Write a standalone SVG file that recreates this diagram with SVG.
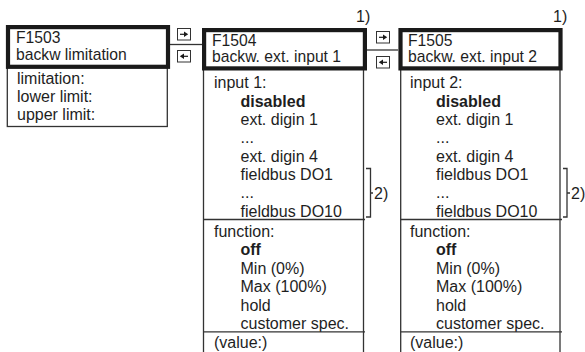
<svg xmlns="http://www.w3.org/2000/svg" width="585" height="352" viewBox="0 0 585 352">
<style>
text{font-family:"Liberation Sans",Arial,Helvetica,sans-serif;font-size:16px;fill:#1e1e1e}
.h{font-size:15.7px}
.b{font-weight:bold}
.hdr{fill:#fff;stroke:#1a1a1a;stroke-width:4.2}
.body{fill:#fff;stroke:#333;stroke-width:1.3}
.ln{fill:none;stroke:#333;stroke-width:1.3}
.ic{fill:#fff;stroke:#333;stroke-width:1}
</style>
<defs>
<g id="ar">
<rect class="ic" x="0.5" y="0.5" width="13" height="11.5"/>
<line x1="3" y1="6.3" x2="8" y2="6.3" stroke="#1a1a1a" stroke-width="1.2"/>
<polygon points="7,3.5 11.2,6.3 7,9.1" fill="#1a1a1a"/>
</g>
<g id="al">
<rect class="ic" x="0.5" y="0.5" width="13" height="11.5"/>
<line x1="6" y1="6.3" x2="11" y2="6.3" stroke="#1a1a1a" stroke-width="1.2"/>
<polygon points="7,3.5 2.8,6.3 7,9.1" fill="#1a1a1a"/>
</g>
</defs>

<g id="connectors">
<line class="ln" x1="170" y1="44.5" x2="202" y2="44.5"/>
<line class="ln" x1="367" y1="50" x2="398" y2="50"/>
<use href="#ar" x="177" y="28"/>
<use href="#al" x="177" y="50"/>
<use href="#ar" x="376" y="31"/>
<use href="#al" x="376" y="56"/>
</g>

<g id="F1503">
<rect class="body" x="7.3" y="66" width="160" height="60.5"/>
<rect class="hdr" x="8" y="27.1" width="160" height="39.7"/>
<text class="h" x="16" y="42.5">F1503</text>
<text class="h" x="16" y="60">backw limitation</text>
<text x="17" y="84">limitation:</text>
<text x="17" y="102">lower limit:</text>
<text x="17" y="120">upper limit:</text>
</g>

<g id="F1504">
<rect class="body" x="203.5" y="68" width="160" height="300"/>
<rect class="hdr" x="204.1" y="30.1" width="160.8" height="38.3"/>
<text x="356" y="22">1)</text>
<text class="h" x="212" y="46.3">F1504</text>
<text class="h" x="212" y="62">backw. ext. input 1</text>
<text x="214" y="88.3">input 1:</text>
<text x="240.5" y="106.6" class="b">disabled</text>
<text x="240.5" y="124.9">ext. digin 1</text>
<text x="240.5" y="143.2">...</text>
<text x="240.5" y="161.5">ext. digin 4</text>
<text x="240.5" y="179.8">fieldbus DO1</text>
<text x="240.5" y="198.1">...</text>
<text x="240.5" y="216.5">fieldbus DO10</text>
<line class="ln" x1="203.5" y1="219.5" x2="365" y2="219.5"/>
<text x="214" y="236.5">function:</text>
<text x="240.5" y="255" class="b">off</text>
<text x="240.5" y="273.5">Min (0%)</text>
<text x="240.5" y="292">Max (100%)</text>
<text x="240.5" y="310.5">hold</text>
<text x="240.5" y="329">customer spec.</text>
<line class="ln" x1="203.5" y1="331.8" x2="365" y2="331.8"/>
<text x="214" y="347.5">(value:)</text>
<path class="ln" d="M366,168.5H370.5V217H366M370.5,193H373"/>
<text x="374" y="198.5">2)</text>
</g>

<g id="F1505">
<rect class="body" x="400.7" y="68" width="159.3" height="300"/>
<rect class="hdr" x="400.5" y="30.1" width="160" height="38.3"/>
<text x="553" y="22">1)</text>
<text class="h" x="408" y="46.3">F1505</text>
<text class="h" x="408" y="62">backw. ext. input 2</text>
<text x="410" y="88.3">input 2:</text>
<text x="436" y="106.6" class="b">disabled</text>
<text x="436" y="124.9">ext. digin 1</text>
<text x="436" y="143.2">...</text>
<text x="436" y="161.5">ext. digin 4</text>
<text x="436" y="179.8">fieldbus DO1</text>
<text x="436" y="198.1">...</text>
<text x="436" y="216.5">fieldbus DO10</text>
<line class="ln" x1="400.7" y1="219.5" x2="562" y2="219.5"/>
<text x="410" y="236.5">function:</text>
<text x="436" y="255" class="b">off</text>
<text x="436" y="273.5">Min (0%)</text>
<text x="436" y="292">Max (100%)</text>
<text x="436" y="310.5">hold</text>
<text x="436" y="329">customer spec.</text>
<line class="ln" x1="400.7" y1="331.8" x2="562" y2="331.8"/>
<text x="410" y="347.5">(value:)</text>
<path class="ln" d="M563,168.5H567V217H563M567,193H570"/>
<text x="571" y="198.5">2)</text>
</g>
</svg>
